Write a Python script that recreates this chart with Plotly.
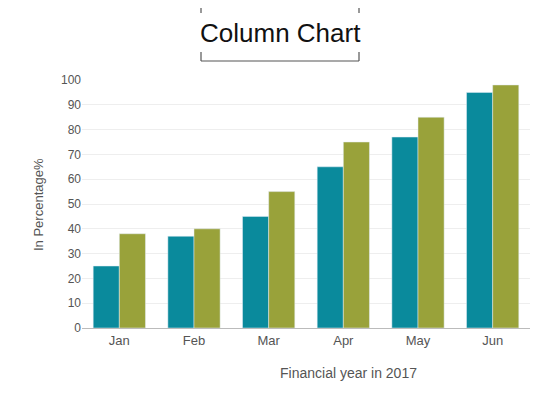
import plotly.graph_objects as go

months = ['Jan', 'Feb', 'Mar', 'Apr', 'May', 'Jun']
series_a = [25, 37, 45, 65, 77, 95]
series_b = [38, 40, 55, 75, 85, 98]

# plot area in screen pixels (page adds an 8px offset)
L, R, T, B = 82, 530, 80, 328
W, H = R - L, B - T
OFF = 8

def px(x):
    return (x - L) / W

def py(y):
    return (B - y) / H

fig = go.Figure()
fig.add_bar(x=months, y=series_a, marker_color='#0a8a9c', name='A')
fig.add_bar(x=months, y=series_b, marker_color='#99a23a', name='B')

line = dict(color='#555555', width=1.2)
shapes = []
for y0, y1, yh in [(2, 13, 2), (61, 52, 61)]:
    shapes.append(dict(type='line', xref='paper', yref='paper', x0=px(201), x1=px(359), y0=py(yh), y1=py(yh), line=line))
    for xx in (201, 359):
        shapes.append(dict(type='line', xref='paper', yref='paper', x0=px(xx), x1=px(xx), y0=py(y0), y1=py(y1), line=line))

fig.update_layout(
    width=560, height=420, showlegend=False,
    margin=dict(l=L - OFF, r=560 - R + OFF, t=T - OFF, b=420 - B + OFF),
    paper_bgcolor='white', plot_bgcolor='white',
    barmode='group', bargap=0.3, bargroupgap=0,
    font=dict(family='Arial, Liberation Sans', color='#555555', size=12),
    shapes=shapes,
    annotations=[
        dict(text='Column Chart', xref='paper', yref='paper', x=px(280), y=py(33),
             xanchor='center', yanchor='middle',
             showarrow=False, font=dict(size=26, color='#111111')),
        dict(text='Financial year in 2017', xref='paper', yref='paper', x=px(348), y=py(373),
             xanchor='center', yanchor='middle',
             showarrow=False, font=dict(size=14, color='#555555')),
        dict(text='In Percentage%', xref='paper', yref='paper', x=px(38), y=py(205),
             xanchor='center', yanchor='middle',
             showarrow=False, textangle=-90, font=dict(size=13, color='#555555')),
    ],
    xaxis=dict(showline=True, linecolor='#bbbbbb', ticks='', tickfont=dict(size=13)),
    yaxis=dict(range=[0, 100], dtick=10, gridcolor='#eeeeee', zeroline=False, tickfont=dict(size=12)),
)

fig.write_html("out.html")
